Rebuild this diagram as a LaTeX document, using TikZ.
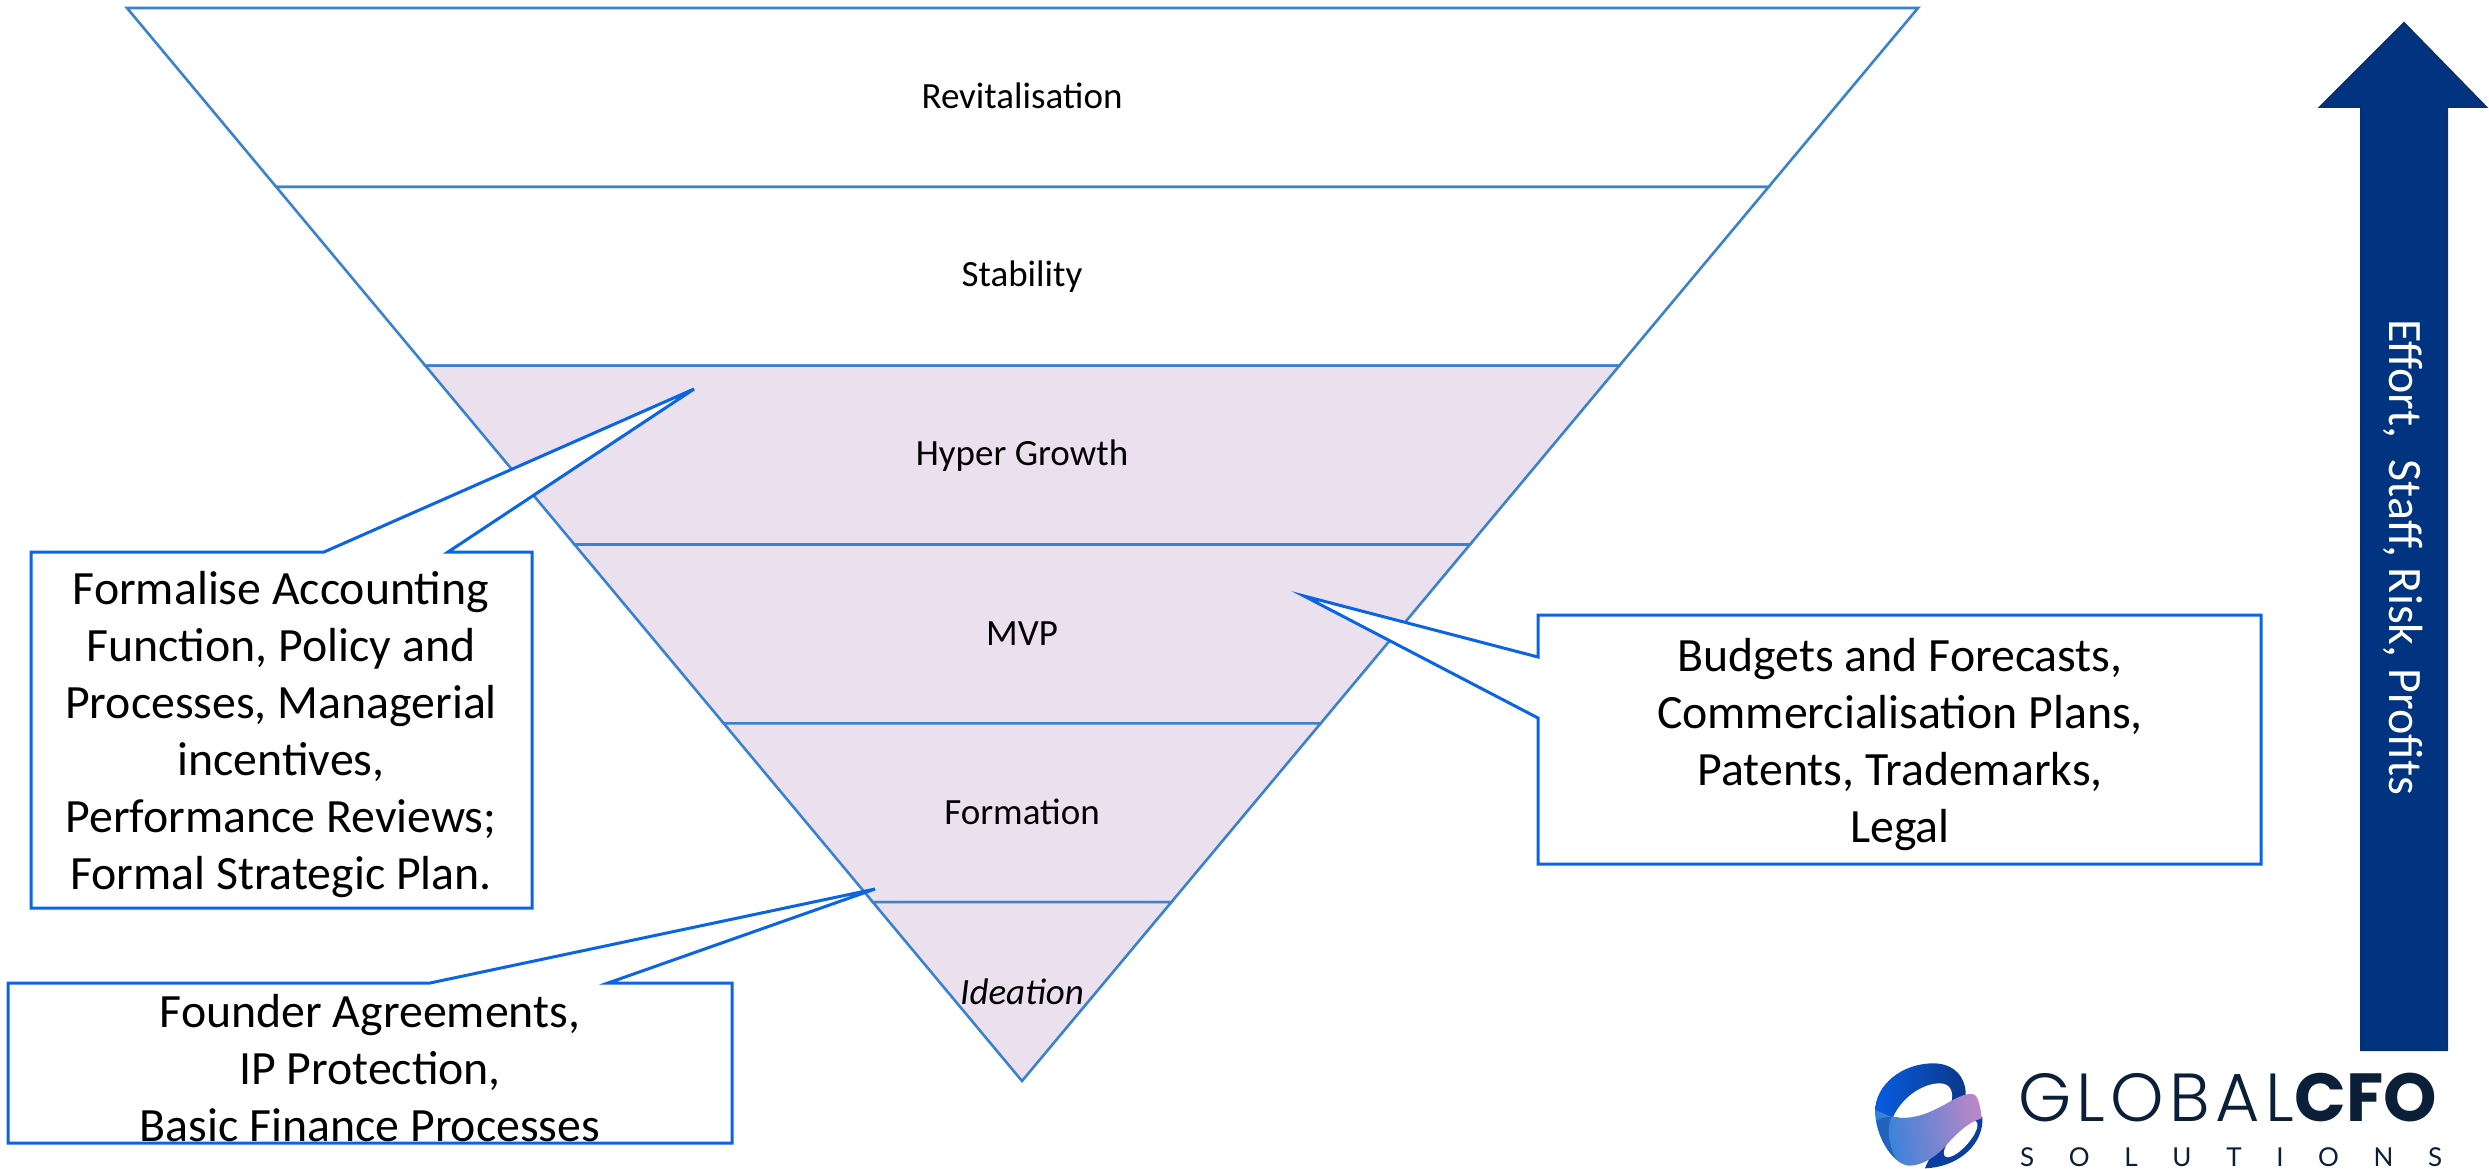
\documentclass[tikz,border=0pt]{standalone}
\usepackage{fontspec}
\setmainfont{Carlito}
\newfontfamily\logolight{Poppins Light}[LetterSpace=8]
\newfontfamily\logoblack{Poppins Bold}
\newfontfamily\logoreg{Lato}
\usetikzlibrary{calc}
\definecolor{triline}{HTML}{3B82CC}
\definecolor{bandfill}{HTML}{EBE0EE}
\definecolor{callline}{HTML}{0A64E6}
\definecolor{arrowfill}{HTML}{003380}
\definecolor{arrowline}{HTML}{0B2F6B}
\definecolor{logotext}{HTML}{0B1F38}
\tikzset{
  band/.style={draw=triline,line width=2.6pt,line join=miter},
  bandshaded/.style={band,fill=bandfill},
  bandlabel/.style={font=\fontsize{37}{44}\selectfont,text=black,inner sep=0pt},
  callshape/.style={draw=callline,line width=3pt,fill=white,line join=miter},
  calltext/.style={font=\fontsize{47.8}{57}\selectfont,text=black,align=center,inner sep=0pt},
}
\def\logobody{(30,165) .. controls (50,172) and (62,180) .. (80,185) .. controls (150,200) and (210,165) .. (260,137) .. controls (290,120) and (320,110) .. (332,122) .. controls (342,135) and (348,165) .. (350,190) .. controls (310,200) and (270,240) .. (235,280) .. controls (200,315) and (165,332) .. (130,332) .. controls (80,325) and (30,240) .. (30,165) -- cycle}
\begin{document}
\begin{tikzpicture}[x=1pt,y=-1pt]
\useasboundingbox (0,0) rectangle (2489,1169);
\coordinate (tl) at (127,8);
\coordinate (tr) at (1918,8);
\coordinate (apex) at (1022,1081);
% bands
\foreach \a/\b/\st in {0/1/band,1/2/band,2/3/bandshaded,3/4/bandshaded,4/5/bandshaded}{
  \draw[\st] ($(tl)!\a/6!(apex)$) -- ($(tr)!\a/6!(apex)$) -- ($(tr)!\b/6!(apex)$) -- ($(tl)!\b/6!(apex)$) -- cycle;
}
\draw[bandshaded] ($(tl)!5/6!(apex)$) -- ($(tr)!5/6!(apex)$) -- (apex) -- cycle;
\node[bandlabel] (l1) at (1022,96) {Revitalisation};
\node[bandlabel] (l2) at (1022,277) {Stability};
\node[bandlabel] (l3) at (1022,456) {Hyper Growth};
\node[bandlabel] (l4) at (1022,634) {MVP};
\node[bandlabel] (l5) at (1022,812) {Formation};
\node[bandlabel] (l6) at (1022,992) {\itshape Ideation};
% callout 1
\coordinate (t1) at (694,389);
\draw[callshape] (31,552) -- (324,552) -- (t1) -- (448,552) -- (532,552) -- (532,908) -- (31,908) -- cycle;
\node[calltext] (c1) at (281,735) {Formalise Accounting\\Function, Policy and\\Processes, Managerial\\incentives,\\Performance Reviews;\\Formal Strategic Plan.};
% callout 2
\coordinate (t2) at (875,889);
\draw[callshape] (8,983) -- (430,983) -- (t2) -- (608,983) -- (732,983) -- (732,1143) -- (8,1143) -- cycle;
\node[calltext] (c2) at (370,1068) {Founder Agreements,\\IP Protection,\\Basic Finance Processes};
% callout 3
\coordinate (t3) at (1304,596);
\draw[callshape] (1538,615) -- (2261,615) -- (2261,864) -- (1538,864) -- (1538,718) -- (t3) -- (1538,657) -- cycle;
\node[calltext] (c3) at (1900,745) {Budgets and Forecasts,\\Commercialisation Plans,\\Patents, Trademarks,\\Legal};
% arrow
\draw[draw=arrowline,fill=arrowfill,line width=2pt,line join=miter] (2404,23) -- (2486,107) -- (2447,107) -- (2447,1050) -- (2361,1050) -- (2361,107) -- (2320,107) -- cycle;
\node[rotate=-90,font=\fontsize{48}{56}\selectfont,text=white,inner sep=0pt] (arrowtext) at (2403,557) {Effort,\ \ Staff, Risk, Profits};
% logo
\begin{scope}[shift={(1865,1055)},scale=0.3333]
  \fill[color={rgb,255:red,10;green,62;blue,160}] (352,185) .. controls (358,260) and (290,335) .. (180,340) .. controls (190,310) and (220,270) .. (260,215) -- cycle;
  \fill[white,rotate around={48:(287,252)}] (287,252) ellipse (70 and 25);
  \shade[left color={rgb,255:red,8;green,92;blue,225},right color={rgb,255:red,10;green,56;blue,135}]
    (30,170) .. controls (30,90) and (110,25) .. (205,25) .. controls (270,25) and (305,70) .. (302,125) -- (200,200) -- (60,200) -- cycle;
  \fill[white] (85,185) .. controls (110,130) and (170,85) .. (225,85) .. controls (255,85) and (268,110) .. (258,145) -- (170,200) -- cycle;
  \shade[left color={rgb,255:red,45;green,130;blue,220},middle color={rgb,255:red,95;green,150;blue,220},right color={rgb,255:red,185;green,135;blue,200},shading angle=100] \logobody;
  \begin{scope}
    \clip \logobody;
    \fill[color={rgb,255:red,10;green,62;blue,150},opacity=.45] (20,205) .. controls (45,190) and (60,185) .. (80,185) .. controls (60,230) and (75,290) .. (110,340) -- (20,340) -- cycle;
  \end{scope}
\end{scope}
\node[anchor=base west,inner sep=0pt,font=\fontsize{68}{72}\selectfont,text=logotext] (logoa) at (2018,1121) {\logolight GLOBAL\logoblack CFO};
\node[anchor=base west,inner sep=0pt,font=\fontsize{26}{30}\selectfont,text=logotext] (logob) at (2020,1166) {\logoreg\makebox[422pt][s]{S\hfill O\hfill L\hfill U\hfill T\hfill I\hfill O\hfill N\hfill S}};
\end{tikzpicture}
\end{document}
